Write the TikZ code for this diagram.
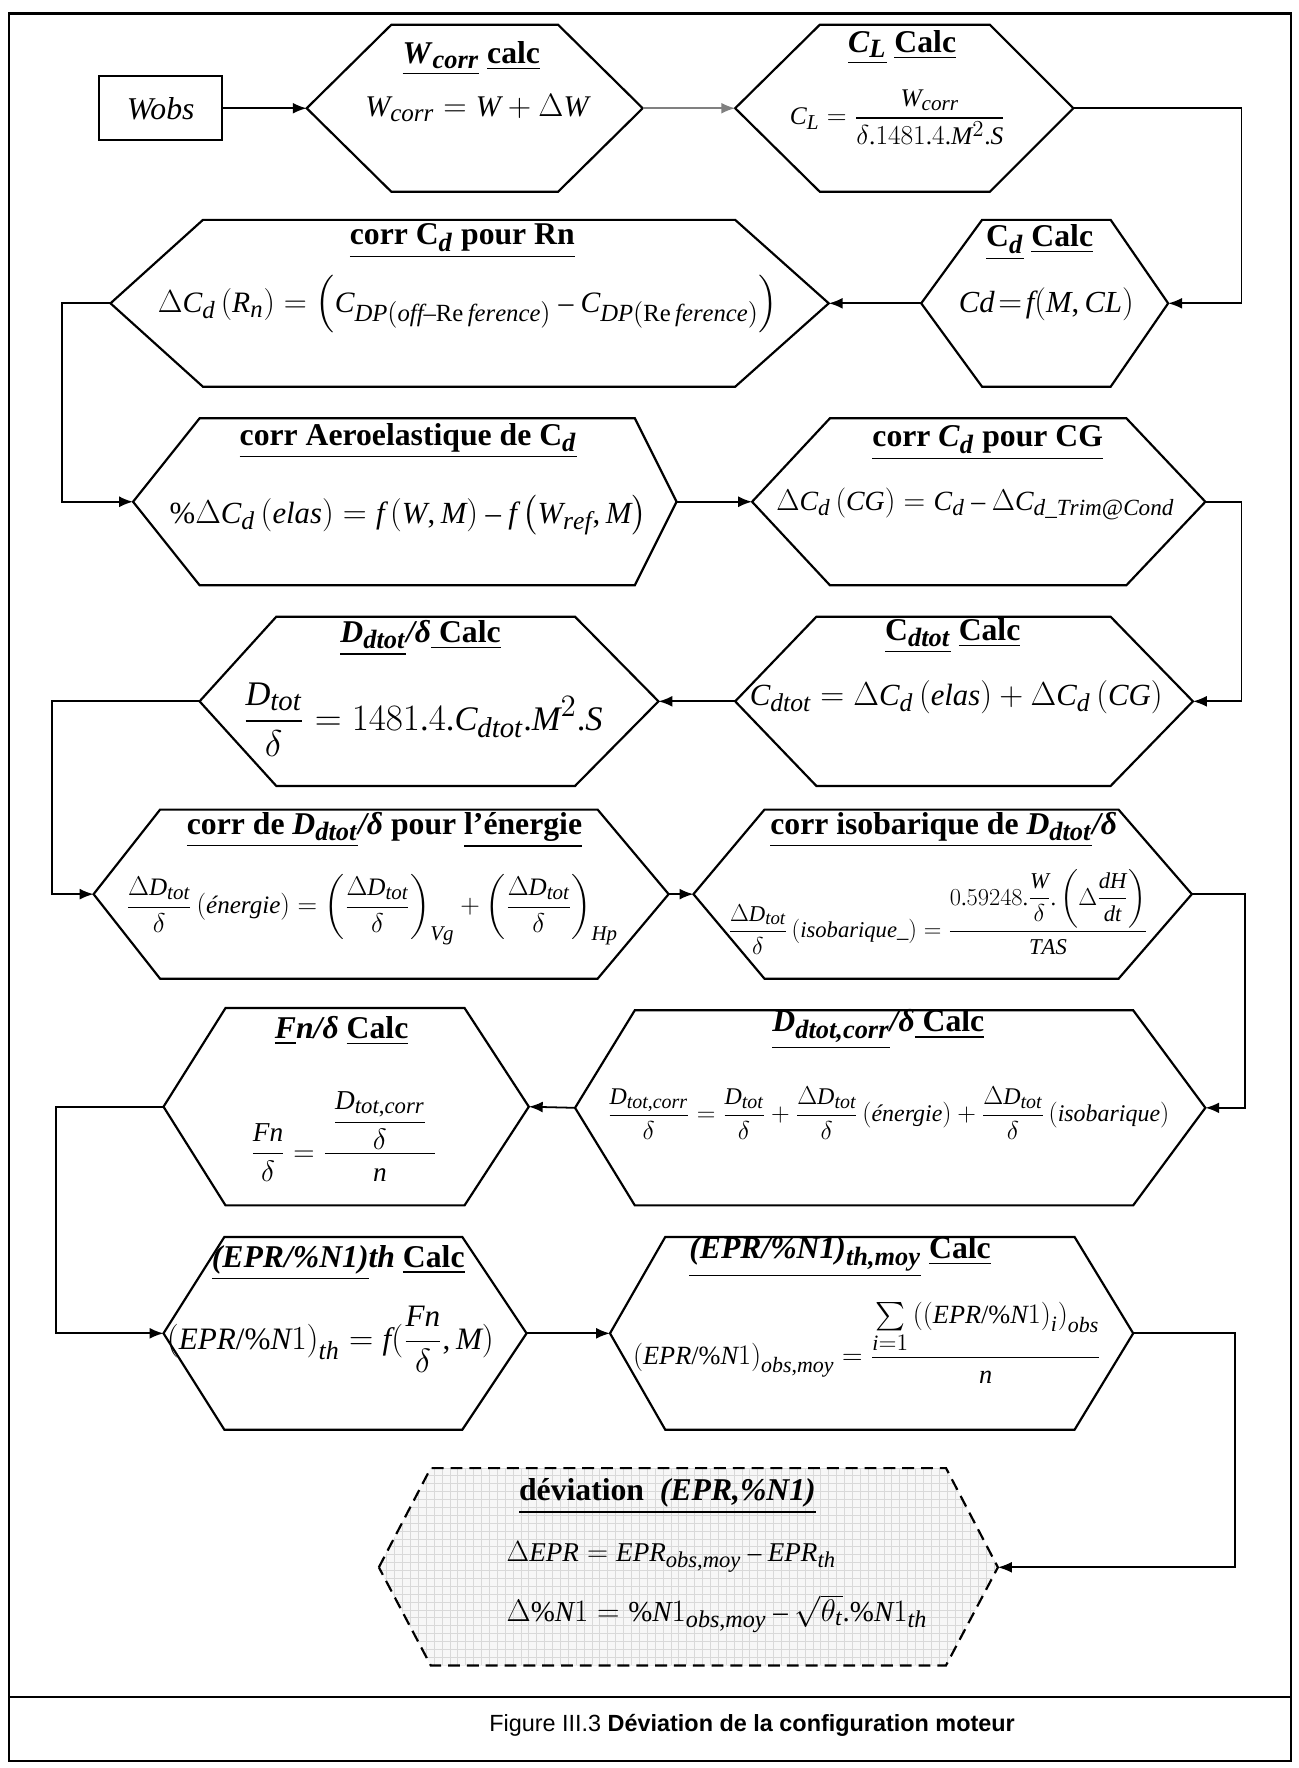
\documentclass[tikz,border=0pt]{standalone}
\usepackage{amsmath}
\usepackage{fontspec}
\setmainfont{Liberation Serif}
\newfontfamily\capfont{Liberation Sans}
\usepackage[italic]{mathastext}
\usepackage{graphicx}
\usetikzlibrary{arrows.meta}
\newlength\upx \setlength\upx{0.02cm}
\newcommand\fw[2]{\resizebox{#1\upx}{!}{#2}}
\newcommand\hexa[8][]{%
  \draw[hexline,#1] (#3,{(#7+#8)/2}) -- (#4,#7) -- (#5,#7) -- (#6,{(#7+#8)/2}) -- (#5,#8) -- (#4,#8) -- cycle;
  \coordinate (#2W) at (#3,{(#7+#8)/2});
  \coordinate (#2E) at (#6,{(#7+#8)/2});
}
\tikzset{
  hexline/.style={line width=1.1pt,line join=miter},
  conn/.style={line width=0.9pt},
  arr/.style={conn,-{Latex[length=7pt,width=5.5pt]}},
  ttl/.style={inner sep=0pt,font=\fontsize{16}{19}\selectfont},
  frm/.style={inner sep=0pt,font=\fontsize{16}{19}\selectfont},
}
\begin{document}
\begin{tikzpicture}[x=0.02cm,y=-0.02cm]
\useasboundingbox (0,0) rectangle (1152,1568);
\fill[white] (0,0) rectangle (1152,1568);
\draw[line width=1.1pt] (8,12) rectangle (1145,1562);
\draw[line width=1.5pt] (8,1505) -- (1145,1505);

% ---------- row 1
\node[draw,line width=1.1pt,minimum width=109\upx,minimum height=57\upx,inner sep=0pt,
      font=\fontsize{16}{19}\selectfont\itshape] (wobs) at (142.5,96) {Wobs};
\hexa{h1}{272}{347}{495}{570}{22}{170}
\node[ttl] (t1) at (418,52) {\underline{\textbf{\textit{W}\textsubscript{\textit{corr}}}} \underline{\textbf{calc}}};
\node[frm] (f1) at (423,96) {\fw{198}{$W_{corr}=W+\Delta W$}};

\hexa{h2}{652}{727}{878}{952}{22}{170}
\node[ttl] (t2) at (800,42) {\underline{\textbf{\textit{C}\textsubscript{\textit{L}}}} \underline{\textbf{Calc}}};
\node[frm] (f2) at (796,104) {\fw{191}{$C_L=\dfrac{W_{corr}}{\delta.1481.4.M^2.S}$}};

% ---------- row 2
\hexa{h3}{817}{871}{985}{1036}{195}{343}
\node[ttl] (t3) at (922,215) {\underline{\textbf{C\textsubscript{\textit{d}}}} \underline{\textbf{Calc}}};
\node[frm] (f3) at (928,270) {\fw{155}{$Cd\!=\!f(M,CL)$}};

\hexa{h4}{98}{180}{652}{735}{195}{343}
\node[ttl] (t4) at (410,214) {\underline{\textbf{corr C\textsubscript{\textit{d}} pour Rn}}};
\node[frm] (f4) at (415,270) {\fw{550}{$\Delta C_d\left(R_n\right)=\left(C_{DP(off-\mathrm{Re}\,ference)}-C_{DP(\mathrm{Re}\,ference)}\right)$}};

% ---------- row 3
\hexa{h5}{118}{177}{563}{600}{371}{519}
\node[ttl] (t5) at (362,391) {\underline{\textbf{corr Aeroelastique de C\textsubscript{\textit{d}}}}};
\node[frm] (f5) at (362,457) {\fw{423}{$\%\Delta C_d\left(elas\right)=f\left(W,M\right)-f\left(W_{ref},M\right)$}};

\hexa{h6}{667}{736}{999}{1069}{371}{519}
\node[ttl] (t6) at (876,393) {\underline{\textbf{corr \textit{C}\textsubscript{\textit{d}} pour CG}}};
\node[frm] (f6) at (865,447) {\fw{353}{$\Delta C_d\left(CG\right)=C_d-\Delta C_{d\_Trim@Cond}$}};

% ---------- row 4
\hexa{h7}{652}{724}{985}{1058}{547}{697}
\node[ttl] (t7) at (845,564) {\underline{\textbf{C\textsubscript{\textit{dtot}}}} \underline{\textbf{Calc}}};
\node[frm] (f7) at (848,618) {\fw{366}{$C_{dtot}=\Delta C_d\left(elas\right)+\Delta C_d\left(CG\right)$}};

\hexa{h8}{177}{245}{510}{584}{547}{697}
\node[ttl] (t8) at (373,566) {\underline{\textbf{\textit{D}\textsubscript{\textit{dtot}}}}\textbf{\textit{/δ}}\underline{\textbf{ Calc}}};
\node[frm] (f8) at (375,638) {\fw{319}{$\dfrac{D_{tot}}{\delta}=1481.4.C_{dtot}.M^2.S$}};

% ---------- row 5
\hexa{h9}{83}{142}{530}{593}{718}{868}
\node[ttl] (t9) at (341,736) {\underline{\textbf{corr de \textit{D}\textsubscript{\textit{dtot}}}}\textbf{\textit{/δ}} \textbf{pour} \underline{\textbf{l’énergie}}};
\node[frm] (f9) at (330,807) {\fw{436}{$\dfrac{\Delta D_{tot}}{\delta}\left(\textit{énergie}\right)=\left(\dfrac{\Delta D_{tot}}{\delta}\right)_{Vg}+\left(\dfrac{\Delta D_{tot}}{\delta}\right)_{Hp}$}};

\hexa{h10}{615}{678}{992}{1057}{718}{868}
\node[ttl] (t10) at (837,736) {\underline{\textbf{corr isobarique de \textit{D}\textsubscript{\textit{dtot}}}}\textbf{\textit{/δ}}};
\node[frm] (f10) at (832,809) {\fw{372}{$\dfrac{\Delta D_{tot}}{\delta}\left(isobarique\_\right)=\dfrac{0.59248.\dfrac{W}{\delta}.\left(\Delta\dfrac{dH}{dt}\right)}{TAS}$}};

% ---------- row 6
\hexa{h11}{510}{563}{1005}{1069}{896}{1069}
\node[ttl] (t11) at (779,913) {\underline{\textbf{\textit{D}\textsubscript{\textit{dtot,corr}}}}\textbf{\textit{/δ}}\underline{\textbf{ Calc}}};
\node[frm] (f11) at (788,987) {\fw{498}{$\dfrac{D_{tot,corr}}{\delta}=\dfrac{D_{tot}}{\delta}+\dfrac{\Delta D_{tot}}{\delta}\left(\textit{énergie}\right)+\dfrac{\Delta D_{tot}}{\delta}\left(isobarique\right)$}};

\hexa{h12}{145}{200}{412}{469}{894}{1069}
\node[ttl] (t12) at (303,914) {\underline{\textbf{\textit{F}}}\textbf{\textit{n/δ}} \underline{\textbf{Calc}}};
\node[frm] (f12) at (305,1008) {\fw{165}{$\dfrac{Fn}{\delta}=\dfrac{\;\dfrac{D_{tot,corr}}{\delta}\;}{n}$}};

% ---------- row 7
\hexa{h13}{145}{199}{410}{467}{1097}{1268}
\node[ttl] (t13) at (300,1120) {\underline{\textbf{\textit{(EPR/\%N1)}}}\textbf{\textit{th}} \underline{\textbf{Calc}}};
\node[frm] (f13) at (293,1188) {\fw{290}{$\left(EPR/\%N1\right)_{th}=f(\dfrac{Fn}{\delta},M)$}};

\hexa{h14}{541}{590}{953}{1005}{1097}{1268}
\node[ttl] (t14) at (745,1115) {\underline{\textbf{\textit{(EPR/\%N1)}\textsubscript{\textit{th,moy}}}} \underline{\textbf{Calc}}};
\node[frm] (f14) at (769,1191) {\fw{415}{$\left(EPR/\%N1\right)_{obs,moy}=\dfrac{\sum\limits_{i=1}\left(\left(EPR/\%N1\right)_i\right)_{obs}}{n}$}};

% ---------- row 8 (dashed, grid filled)
\begin{scope}
  \clip (336,1390) -- (382,1302) -- (839,1302) -- (885,1390) -- (839,1477) -- (382,1477) -- cycle;
  \fill[gray!6] (330,1295) rectangle (890,1485);
  \draw[gray!30,line width=0.25pt,step=0.14cm] (330,1295) grid (890,1485);
\end{scope}
\draw[hexline,dash pattern=on 6pt off 3.5pt] (336,1390) -- (382,1302) -- (839,1302) -- (885,1390) -- (839,1477) -- (382,1477) -- cycle;
\coordinate (h15W) at (336,1390);
\coordinate (h15E) at (885,1390);
\node[ttl,anchor=west] (t15) at (460,1327) {\underline{\textbf{déviation \ \textit{(EPR,\%N1)}}}};
\node[frm,anchor=west] (f15a) at (449,1381) {\fw{292}{$\Delta EPR=EPR_{obs,moy}-EPR_{th}$}};
\node[frm,anchor=west] (f15b) at (449,1431) {\fw{373}{$\Delta\%N1=\%N1_{obs,moy}-\sqrt{\theta_t}.\%N1_{th}$}};

% ---------- connectors
\coordinate (rx1) at (1101,0);
\coordinate (rx2) at (1104,0);
\coordinate (rx3) at (1095,0);
\coordinate (lx1) at (55,0);
\coordinate (lx2) at (46,0);
\coordinate (lx3) at (50,0);

\draw[arr] (wobs.east) -- (h1W);
\draw[arr,gray] (h1E) -- (h2W);
\draw[arr] (h2E) -- (h2E -| rx1) |- (h3E);
\draw[arr] (h3W) -- (h4E);
\draw[arr] (h4W) -- (h4W -| lx1) |- (h5W);
\draw[arr] (h5E) -- (h6W);
\draw[arr] (h6E) -- (h6E -| rx1) |- (h7E);
\draw[arr] (h7W) -- (h8E);
\draw[arr] (h8W) -- (h8W -| lx2) |- (h9W);
\draw[arr] (h9E) -- (h10W);
\draw[arr] (h10E) -- (h10E -| rx2) |- (h11E);
\draw[arr] (h11W) -- (h12E);
\draw[arr] (h12W) -- (h12W -| lx3) |- (h13W);
\draw[arr] (h13E) -- (h14W);
\draw[arr] (h14E) -- (h14E -| rx3) |- (h15E);

% ---------- caption
\node[inner sep=0pt,font=\capfont] (cap) at (667,1530) {\fw{466}{Figure III.3 \textbf{Déviation de la configuration moteur}}};
\end{tikzpicture}
\end{document}
